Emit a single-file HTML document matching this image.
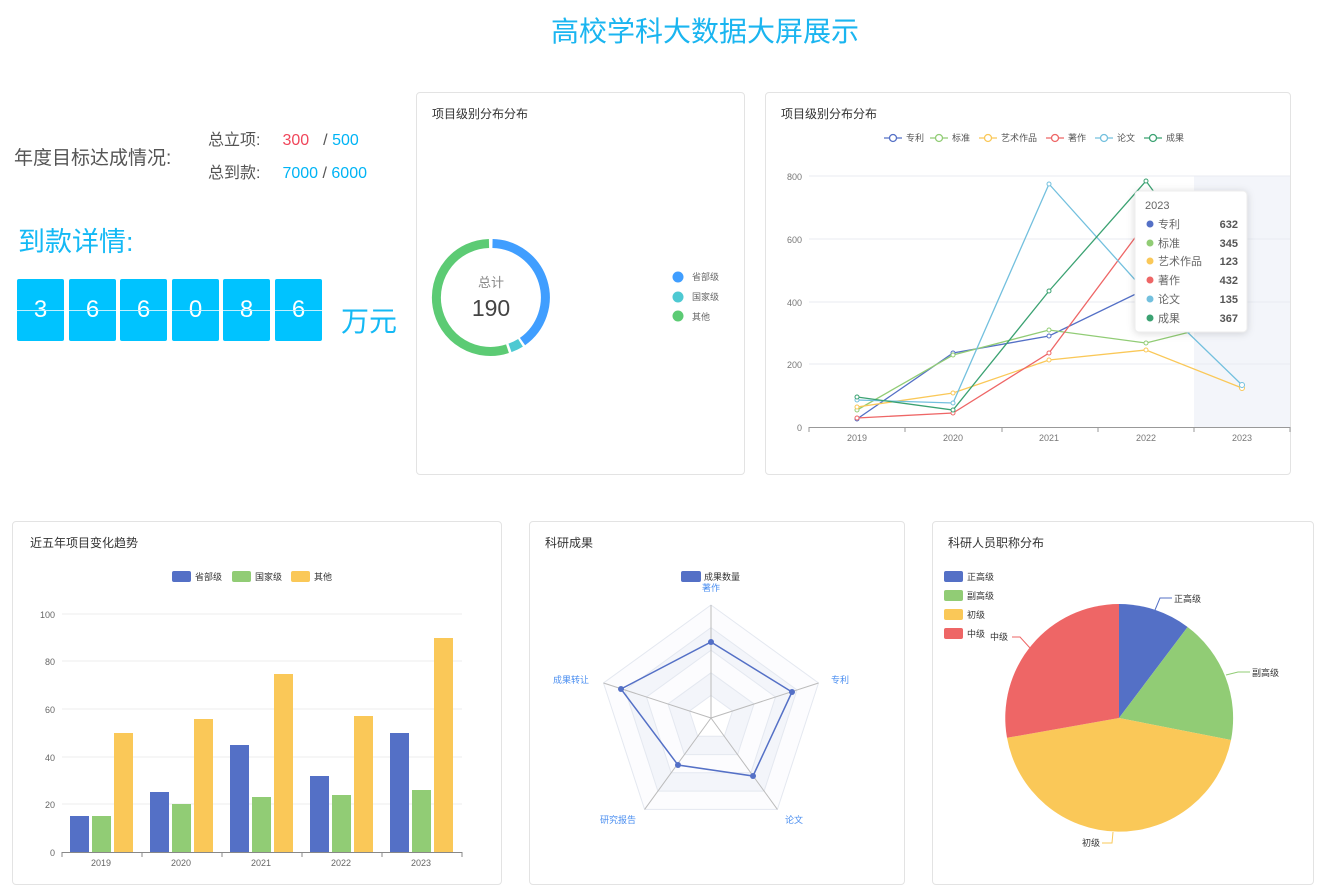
<!DOCTYPE html>
<html><head><meta charset="utf-8"><style>
body{margin:0;width:1339px;height:888px;background:#fff;font-family:"Liberation Sans","Noto Sans CJK SC",sans-serif;position:relative;overflow:hidden}
.a{position:absolute}
.card{position:absolute;border:1px solid #e3e3e3;border-radius:4px;background:#fff}
.d{position:absolute;top:279px;width:47px;height:62px;background:#00c3ff;color:#fff;font-size:24px;text-align:center;line-height:62px;border-radius:2px}
.d:after{content:"";position:absolute;left:0;right:0;top:31px;height:1px;background:#bfefff}
svg text{font-family:"Liberation Sans","Noto Sans CJK SC",sans-serif}
</style></head><body>
<div class="a" style="left:0;width:1410px;top:10px;text-align:center;font-size:28px;color:#1ab5f0">高校学科大数据大屏展示</div>
<div class="a" style="left:14px;top:143px;font-size:19px;color:#555">年度目标达成情况:</div>
<div class="a" style="left:208px;top:126px;font-size:16px;color:#555">总立项:<span style="margin-left:22px;color:#f0465a">300</span><span style="margin-left:14px;color:#555">/</span> <span style="color:#00b4f5">500</span></div>
<div class="a" style="left:208px;top:159px;font-size:16px;color:#555">总到款:<span style="margin-left:22px;color:#00b4f5">7000</span> / <span style="color:#00b4f5">6000</span></div>
<div class="a" style="left:18px;top:220px;font-size:27px;color:#14b9f5">到款详情:</div>
<div class="d" style="left:17px">3</div><div class="d" style="left:69px">6</div><div class="d" style="left:120px">6</div><div class="d" style="left:172px">0</div><div class="d" style="left:223px">8</div><div class="d" style="left:275px">6</div>
<div class="a" style="left:341px;top:300px;font-size:28px;color:#14b9f5">万元</div>

<div class="card" style="left:416px;top:92px;width:327px;height:381px"></div>
<div class="card" style="left:765px;top:92px;width:524px;height:381px"></div>
<div class="card" style="left:12px;top:521px;width:488px;height:362px"></div>
<div class="card" style="left:529px;top:521px;width:374px;height:362px"></div>
<div class="card" style="left:932px;top:521px;width:380px;height:362px"></div>

<svg class="a" style="left:0;top:0" width="1339" height="888">
<g font-size="12" fill="#333">
<text x="432" y="118">项目级别分布分布</text>
<text x="781" y="118">项目级别分布分布</text>
<text x="30" y="547">近五年项目变化趋势</text>
<text x="545" y="547">科研成果</text>
<text x="948" y="547">科研人员职称分布</text>
</g>
<!-- donut -->
<g fill="none" stroke-width="9">
<path d="M492.5 243.5 A54 54 0 0 1 522.5 341.6" stroke="#409eff"/>
<path d="M520.5 342.8 A54 54 0 0 1 510 347.9" stroke="#4ec9d2"/>
<path d="M507.5 348.7 A54 54 0 1 1 489 243.5" stroke="#5ccb74"/>
</g>
<text x="491" y="287" font-size="13" fill="#888" text-anchor="middle">总计</text>
<text x="491" y="316" font-size="23" fill="#444" text-anchor="middle">190</text>
<circle cx="678" cy="277" r="5.5" fill="#409eff"/><circle cx="678" cy="297" r="5.5" fill="#4ec9d2"/><circle cx="678" cy="316" r="5.5" fill="#5ccb74"/>
<g font-size="9" fill="#666"><text x="692" y="280">省部级</text><text x="692" y="300">国家级</text><text x="692" y="320">其他</text></g>

<!-- line chart -->
<rect x="1194" y="176" width="96" height="251" fill="#f3f5fa"/>
<g stroke="#e8ebf2"><line x1="809" y1="176" x2="1290" y2="176"/><line x1="809" y1="239" x2="1290" y2="239"/><line x1="809" y1="302" x2="1290" y2="302"/><line x1="809" y1="364" x2="1290" y2="364"/></g>
<line x1="809" y1="427.5" x2="1290" y2="427.5" stroke="#999"/>
<g stroke="#999"><line x1="809" y1="427" x2="809" y2="432"/><line x1="905" y1="427" x2="905" y2="432"/><line x1="1002" y1="427" x2="1002" y2="432"/><line x1="1098" y1="427" x2="1098" y2="432"/><line x1="1194" y1="427" x2="1194" y2="432"/><line x1="1290" y1="427" x2="1290" y2="432"/></g>
<g font-size="9" fill="#777" text-anchor="end"><text x="802" y="180">800</text><text x="802" y="243">600</text><text x="802" y="306">400</text><text x="802" y="368">200</text><text x="802" y="431">0</text></g>
<g font-size="9" fill="#777" text-anchor="middle"><text x="857" y="441">2019</text><text x="953" y="441">2020</text><text x="1049" y="441">2021</text><text x="1146" y="441">2022</text><text x="1242" y="441">2023</text></g>
<g fill="none" stroke-width="1.3">
<polyline points="857,419 953,353 1049,336 1146,289 1242,229" stroke="#5470c6"/>
<polyline points="857,410 953,355 1049,330 1146,343 1242,319" stroke="#91cc75"/>
<polyline points="857,407 953,393 1049,360 1146,350 1242,388" stroke="#fac858"/>
<polyline points="857,418 953,413 1049,353 1146,223 1242,291" stroke="#ee6666"/>
<polyline points="857,400 953,403 1049,184 1146,292 1242,385" stroke="#73c0de"/>
<polyline points="857,397 953,410 1049,291 1146,181 1242,312" stroke="#3ba272"/>
</g>
<g fill="#fff" stroke-width="1">
<circle cx="857" cy="419" r="2" stroke="#5470c6"/><circle cx="953" cy="353" r="2" stroke="#5470c6"/><circle cx="1049" cy="336" r="2" stroke="#5470c6"/>
<circle cx="857" cy="410" r="2" stroke="#91cc75"/><circle cx="953" cy="355" r="2" stroke="#91cc75"/><circle cx="1049" cy="330" r="2" stroke="#91cc75"/><circle cx="1146" cy="343" r="2" stroke="#91cc75"/>
<circle cx="857" cy="407" r="2" stroke="#fac858"/><circle cx="953" cy="393" r="2" stroke="#fac858"/><circle cx="1049" cy="360" r="2" stroke="#fac858"/><circle cx="1146" cy="350" r="2" stroke="#fac858"/><circle cx="1242" cy="388" r="2.5" stroke="#fac858"/>
<circle cx="857" cy="418" r="2" stroke="#ee6666"/><circle cx="953" cy="413" r="2" stroke="#ee6666"/><circle cx="1049" cy="353" r="2" stroke="#ee6666"/>
<circle cx="857" cy="400" r="2" stroke="#73c0de"/><circle cx="953" cy="403" r="2" stroke="#73c0de"/><circle cx="1049" cy="184" r="2" stroke="#73c0de"/><circle cx="1242" cy="385" r="2.5" stroke="#73c0de"/>
<circle cx="857" cy="397" r="2" stroke="#3ba272"/><circle cx="953" cy="410" r="2" stroke="#3ba272"/><circle cx="1049" cy="291" r="2" stroke="#3ba272"/><circle cx="1146" cy="181" r="2" stroke="#3ba272"/>
</g>
<!-- legend -->
<g font-size="9" fill="#555" stroke-width="1.3">
<line x1="884" y1="138" x2="902" y2="138" stroke="#5470c6"/><circle cx="893" cy="138" r="3.5" fill="#fff" stroke="#5470c6"/><text x="906" y="141">专利</text>
<line x1="930" y1="138" x2="948" y2="138" stroke="#91cc75"/><circle cx="939" cy="138" r="3.5" fill="#fff" stroke="#91cc75"/><text x="952" y="141">标准</text>
<line x1="979" y1="138" x2="997" y2="138" stroke="#fac858"/><circle cx="988" cy="138" r="3.5" fill="#fff" stroke="#fac858"/><text x="1001" y="141">艺术作品</text>
<line x1="1046" y1="138" x2="1064" y2="138" stroke="#ee6666"/><circle cx="1055" cy="138" r="3.5" fill="#fff" stroke="#ee6666"/><text x="1068" y="141">著作</text>
<line x1="1095" y1="138" x2="1113" y2="138" stroke="#73c0de"/><circle cx="1104" cy="138" r="3.5" fill="#fff" stroke="#73c0de"/><text x="1117" y="141">论文</text>
<line x1="1144" y1="138" x2="1162" y2="138" stroke="#3ba272"/><circle cx="1153" cy="138" r="3.5" fill="#fff" stroke="#3ba272"/><text x="1166" y="141">成果</text>
</g>
<!-- tooltip -->
<rect x="1135" y="191" width="112" height="141" rx="4" fill="#fff" stroke="#eee" style="filter:drop-shadow(0 1px 4px rgba(0,0,0,.15))"/>
<g font-size="11" fill="#666"><text x="1145" y="209">2023</text>
<circle cx="1150" cy="224" r="3.5" fill="#5470c6"/><text x="1158" y="228">专利</text>
<circle cx="1150" cy="243" r="3.5" fill="#91cc75"/><text x="1158" y="247">标准</text>
<circle cx="1150" cy="261" r="3.5" fill="#fac858"/><text x="1158" y="265">艺术作品</text>
<circle cx="1150" cy="280" r="3.5" fill="#ee6666"/><text x="1158" y="284">著作</text>
<circle cx="1150" cy="299" r="3.5" fill="#73c0de"/><text x="1158" y="303">论文</text>
<circle cx="1150" cy="318" r="3.5" fill="#3ba272"/><text x="1158" y="322">成果</text>
</g>
<g font-size="11" fill="#555" font-weight="bold" text-anchor="end"><text x="1238" y="228">632</text><text x="1238" y="247">345</text><text x="1238" y="265">123</text><text x="1238" y="284">432</text><text x="1238" y="303">135</text><text x="1238" y="322">367</text></g>

<!-- bar chart -->
<g stroke="#eee"><line x1="62" y1="614" x2="462" y2="614"/><line x1="62" y1="661" x2="462" y2="661"/><line x1="62" y1="709" x2="462" y2="709"/><line x1="62" y1="757" x2="462" y2="757"/><line x1="62" y1="804" x2="462" y2="804"/></g>
<line x1="62" y1="852.5" x2="462" y2="852.5" stroke="#888"/>
<g stroke="#888"><line x1="62" y1="852" x2="62" y2="857"/><line x1="142" y1="852" x2="142" y2="857"/><line x1="222" y1="852" x2="222" y2="857"/><line x1="302" y1="852" x2="302" y2="857"/><line x1="382" y1="852" x2="382" y2="857"/><line x1="462" y1="852" x2="462" y2="857"/></g>
<g font-size="9" fill="#666" text-anchor="end"><text x="55" y="618">100</text><text x="55" y="665">80</text><text x="55" y="713">60</text><text x="55" y="761">40</text><text x="55" y="808">20</text><text x="55" y="856">0</text></g>
<g font-size="9" fill="#666" text-anchor="middle"><text x="101" y="866">2019</text><text x="181" y="866">2020</text><text x="261" y="866">2021</text><text x="341" y="866">2022</text><text x="421" y="866">2023</text></g>
<g fill="#5470c6"><rect x="70" y="816" width="19" height="36"/><rect x="150" y="792" width="19" height="60"/><rect x="230" y="745" width="19" height="107"/><rect x="310" y="776" width="19" height="76"/><rect x="390" y="733" width="19" height="119"/></g>
<g fill="#91cc75"><rect x="92" y="816" width="19" height="36"/><rect x="172" y="804" width="19" height="48"/><rect x="252" y="797" width="19" height="55"/><rect x="332" y="795" width="19" height="57"/><rect x="412" y="790" width="19" height="62"/></g>
<g fill="#fac858"><rect x="114" y="733" width="19" height="119"/><rect x="194" y="719" width="19" height="133"/><rect x="274" y="674" width="19" height="178"/><rect x="354" y="716" width="19" height="136"/><rect x="434" y="638" width="19" height="214"/></g>
<g font-size="9" fill="#333"><rect x="172" y="571" width="19" height="11" rx="2" fill="#5470c6"/><text x="195" y="580">省部级</text>
<rect x="232" y="571" width="19" height="11" rx="2" fill="#91cc75"/><text x="255" y="580">国家级</text>
<rect x="291" y="571" width="19" height="11" rx="2" fill="#fac858"/><text x="314" y="580">其他</text></g>

<!-- radar: center 711,718 R 113 -->
<g stroke="#e4e8f0" fill="none">
<polygon points="711,605 818.5,683 777.4,809.4 644.6,809.4 603.5,683" fill="#fcfcfe"/>
<polygon points="711,627.6 797,690 764.1,791.1 657.9,791.1 625,690" fill="#f3f5fa"/>
<polygon points="711,650.2 775.5,697 750.9,772.8 671.1,772.8 646.5,697" fill="#fcfcfe"/>
<polygon points="711,672.8 754,704 737.6,754.6 684.4,754.6 668,704" fill="#f3f5fa"/>
<polygon points="711,695.4 732.5,711 724.3,736.3 697.7,736.3 689.5,711" fill="#fff"/>
</g>
<g stroke="#bbb"><line x1="711" y1="718" x2="711" y2="605"/><line x1="711" y1="718" x2="818.5" y2="683"/><line x1="711" y1="718" x2="777.4" y2="809.4"/><line x1="711" y1="718" x2="644.6" y2="809.4"/><line x1="711" y1="718" x2="603.5" y2="683"/></g>
<polygon points="711,642 792,692 753,776 678,765 621,689" fill="none" stroke="#5470c6" stroke-width="1.5"/>
<g fill="#5470c6"><circle cx="711" cy="642" r="3"/><circle cx="792" cy="692" r="3"/><circle cx="753" cy="776" r="3"/><circle cx="678" cy="765" r="3"/><circle cx="621" cy="689" r="3"/></g>
<g font-size="9" fill="#4a8ef0"><text x="711" y="591" text-anchor="middle">著作</text><text x="831" y="683">专利</text><text x="785" y="823">论文</text><text x="600" y="823">研究报告</text><text x="553" y="683">成果转让</text></g>
<rect x="681" y="571" width="20" height="11" rx="2" fill="#5470c6"/><text x="704" y="580" font-size="9" fill="#333">成果数量</text>

<!-- pie c 1119,718 r 114 -->
<path d="M1119 718 L1119 604 A114 114 0 0 1 1187.6 627 Z" fill="#5470c6"/>
<path d="M1119 718 L1187.6 627 A114 114 0 0 1 1231 740 Z" fill="#91cc75"/>
<path d="M1119 718 L1231 740 A114 114 0 0 1 1007 737.8 Z" fill="#fac858"/>
<path d="M1119 718 L1007 737.8 A114 114 0 0 1 1119 604 Z" fill="#ee6666"/>
<g fill="none" stroke-width="1"><polyline points="1155,610 1160,598 1172,598" stroke="#5470c6"/><polyline points="1226,675 1238,672 1250,672" stroke="#91cc75"/><polyline points="1113,832 1112,843 1102,843" stroke="#fac858"/><polyline points="1030,648 1020,637 1012,637" stroke="#ee6666"/></g>
<g font-size="9" fill="#333"><text x="1174" y="602">正高级</text><text x="1252" y="676">副高级</text><text x="1082" y="846">初级</text><text x="990" y="640">中级</text></g>
<g font-size="9" fill="#333"><rect x="944" y="571" width="19" height="11" rx="2" fill="#5470c6"/><text x="967" y="580">正高级</text>
<rect x="944" y="590" width="19" height="11" rx="2" fill="#91cc75"/><text x="967" y="599">副高级</text>
<rect x="944" y="609" width="19" height="11" rx="2" fill="#fac858"/><text x="967" y="618">初级</text>
<rect x="944" y="628" width="19" height="11" rx="2" fill="#ee6666"/><text x="967" y="637">中级</text></g>
</svg>
</body></html>
